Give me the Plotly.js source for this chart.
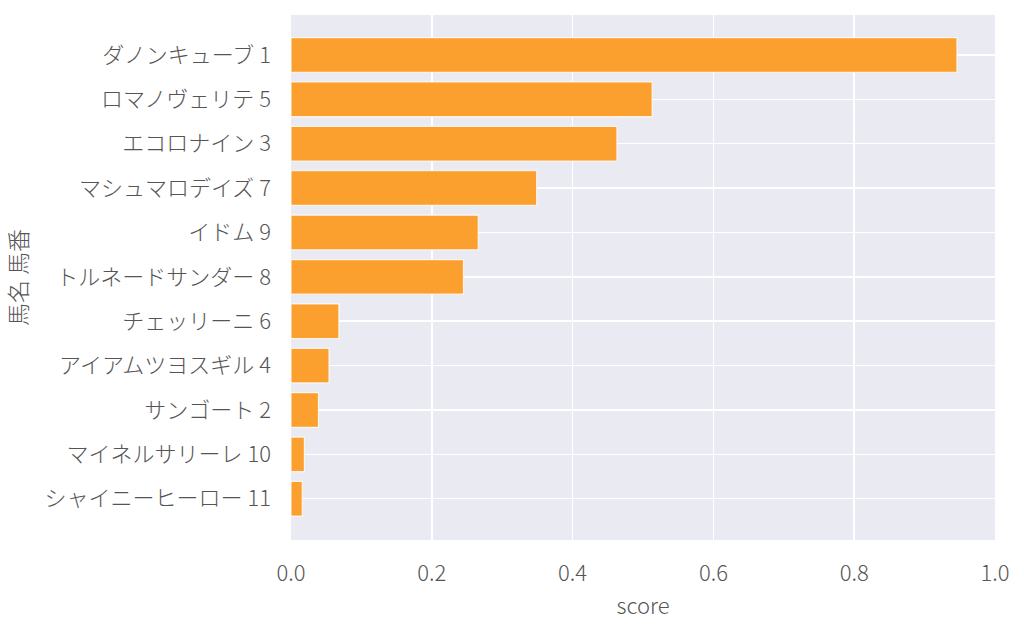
<!DOCTYPE html>
<html><head><meta charset="utf-8">
<script src="https://cdn.plot.ly/plotly-3.0.1.min.js"></script>
<style>html,body{margin:0;padding:0;background:#fff}</style>
</head><body>
<div id="chart" style="width:1024px;height:631px"></div>
<script>
const horses = ["ダノンキューブ 1","ロマノヴェリテ 5","エコロナイン 3","マシュマロデイズ 7","イドム 9","トルネードサンダー 8","チェッリーニ 6","アイアムツヨスギル 4","サンゴート 2","マイネルサリーレ 10","シャイニーヒーロー 11"];
const scores = [0.946, 0.513, 0.463, 0.349, 0.266, 0.245, 0.068, 0.054, 0.039, 0.019, 0.016];
const xTicks = [0, 0.2, 0.4, 0.6, 0.8, 1.0];
const xTickLabels = ["0.0","0.2","0.4","0.6","0.8","1.0"];

const font = "'Noto Sans CJK JP Light', 'Noto Sans CJK JP', 'Noto Sans', sans-serif";
const tcol = "#555555";
const trace = {
  type: "bar", orientation: "h",
  x: scores, y: horses.map((_, i) => i),
  width: 0.78,
  marker: {color: "rgb(251,159,47)", line: {color: "rgba(255,255,255,0.8)", width: 1.2}},
  hoverinfo: "none"
};
const layout = {
  width: 1024, height: 631,
  margin: {l: 291, r: 29, t: 15, b: 91},
  paper_bgcolor: "#ffffff", plot_bgcolor: "#EAEAF2",
  font: {family: font, color: tcol, size: 22, weight: 300},
  showlegend: false,
  xaxis: {
    range: [0, 1.0], tickvals: xTicks, ticktext: xTickLabels,
    showgrid: true, gridcolor: "#ffffff", gridwidth: 1.5, zeroline: false,
    ticks: "", ticklen: 0, ticklabelstandoff: 18,
    tickfont: {size: 22, color: tcol, family: font, weight: 300},
    title: {text: "score", font: {size: 22, color: tcol, family: font, weight: 300}, standoff: 12}
  },
  yaxis: {
    range: [10.93, -0.9], tickvals: horses.map((_, i) => i), ticktext: horses,
    showgrid: true, gridcolor: "#ffffff", gridwidth: 1.5, zeroline: false,
    ticks: "", ticklen: 0, ticklabelstandoff: 19,
    tickfont: {size: 22, color: tcol, family: font, weight: 300},
    title: {text: "馬名 馬番", font: {size: 23, color: tcol, family: font, weight: 300}, standoff: 14}
  }
};
Plotly.newPlot("chart", [trace], layout, {displayModeBar: false, staticPlot: true});
</script>
</body></html>
